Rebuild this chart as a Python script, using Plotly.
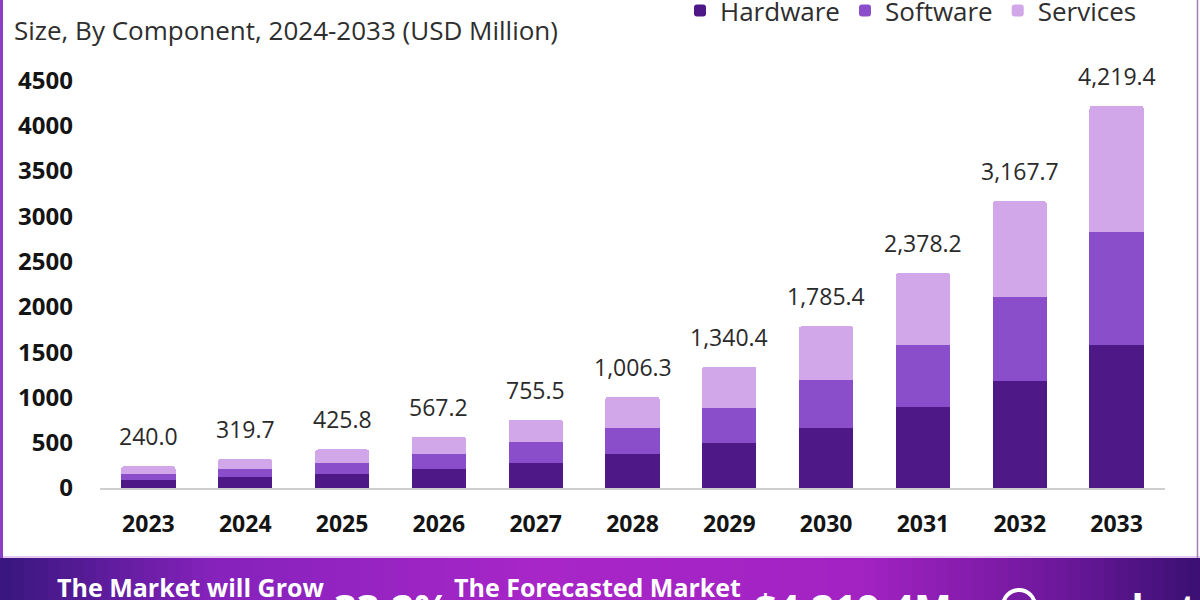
import plotly.graph_objects as go

# ---------------- data ----------------
years = ["2023", "2024", "2025", "2026", "2027", "2028", "2029", "2030", "2031", "2032", "2033"]
hardware = [89, 118, 158, 211, 281, 376, 500, 667, 893, 1185, 1578]
software = [70, 94, 123, 162, 222, 290, 385, 525, 685, 920, 1247]
services = [81.0, 107.7, 144.8, 194.2, 252.5, 340.3, 455.4, 593.4, 800.2, 1062.7, 1394.4]
totals = [240.0, 319.7, 425.8, 567.2, 755.5, 1006.3, 1340.4, 1785.4, 2378.2, 3167.7, 4219.4]
y_ticks = [0, 500, 1000, 1500, 2000, 2500, 3000, 3500, 4000, 4500]

subtitle = "Size, By Component, 2024-2033 (USD Million)"
cagr_label = "33.2%"
forecast_label = "$4,219.4M"

# ---------------- layout geometry (pixels) ----------------
W, H = 1200, 600
PL, PR, PT, PB = 100, 1165, 68, 488


def px_x(x):
    return (x - PL) / (PR - PL)


def px_y(y):
    return (PB - y) / (PB - PT)


FONT = "Open Sans"
C_HW, C_SW, C_SV = "#4e1886", "#8a4ecb", "#d1a7ea"

fig = go.Figure()
for name, vals, col in [("Hardware", hardware, C_HW), ("Software", software, C_SW), ("Services", services, C_SV)]:
    fig.add_trace(go.Bar(
        name=name, x=years, y=vals,
        marker=dict(color=col, line=dict(width=0), cornerradius=3),
        hoverinfo="x+y+name",
    ))

# value labels above bars (category index positions)
for i, t in enumerate(totals):
    fig.add_annotation(
        x=i, y=t, xref="x", yref="y", text=f"{t:,.1f}", showarrow=False,
        yanchor="bottom", yshift=12,
        font=dict(family=FONT, size=23, color="#2a2a2a"),
    )

shapes = []
# banner gradient
stops = [(0.0, (0x38, 0x16, 0x7e)), (0.18, (0x86, 0x22, 0xbc)), (0.45, (0xa8, 0x26, 0xc8)),
         (0.72, (0xa2, 0x22, 0xc2)), (0.88, (0x6e, 0x18, 0x9c)), (1.0, (0x3a, 0x10, 0x72))]


def grad(f):
    for (f0, c0), (f1, c1) in zip(stops[:-1], stops[1:]):
        if f0 <= f <= f1:
            t = (f - f0) / (f1 - f0) if f1 > f0 else 0
            return "rgb(%d,%d,%d)" % tuple(round(a + (b - a) * t) for a, b in zip(c0, c1))
    return "rgb(%d,%d,%d)" % stops[-1][1]


N = 100
BT = 558
for i in range(N):
    x0 = W * i / N
    x1 = W * (i + 1) / N + 0.5
    shapes.append(dict(type="rect", xref="paper", yref="paper",
                       x0=px_x(x0), x1=px_x(x1), y0=px_y(BT), y1=px_y(H + 5),
                       fillcolor=grad((i + 0.5) / N), line=dict(width=0), layer="above"))
# thin light line above banner
shapes.append(dict(type="line", xref="paper", yref="paper", x0=px_x(0), x1=px_x(W),
                   y0=px_y(BT - 1), y1=px_y(BT - 1), line=dict(color="#e6c9f0", width=2)))
# side borders
shapes.append(dict(type="rect", xref="paper", yref="paper", x0=px_x(0), x1=px_x(3),
                   y0=px_y(0), y1=px_y(BT), fillcolor="#8b3fc6", line=dict(width=0)))
shapes.append(dict(type="line", xref="paper", yref="paper", x0=px_x(1197.5), x1=px_x(1197.5),
                   y0=px_y(0), y1=px_y(BT), line=dict(color="#a47bb5", width=1.5)))
# logo circle
shapes.append(dict(type="circle", xref="paper", yref="paper", x0=px_x(1003), x1=px_x(1035),
                   y0=px_y(590), y1=px_y(622), line=dict(color="white", width=4)))

banner_texts = [
    ("The Market will Grow", 55, 568, 25),
    ("The Forecasted Market", 452, 568, 25),
    (cagr_label, 332, 578, 40),
    (forecast_label, 752, 578, 40),
    ("market.us", 1048, 578, 40),
]
for txt, x, y, sz in banner_texts:
    fig.add_annotation(xref="paper", yref="paper", x=px_x(x), y=px_y(y), text=f"<b>{txt}</b>",
                       showarrow=False, xanchor="left", yanchor="top",
                       font=dict(family=FONT, size=sz, color="white"))

fig.update_layout(
    width=W, height=H,
    barmode="stack", bargap=0.44,
    paper_bgcolor="white", plot_bgcolor="white",
    margin=dict(l=PL, r=W - PR, t=PT, b=H - PB, pad=0, autoexpand=False),
    title=dict(text=subtitle, x=14 / W, xanchor="left", xref="container",
               y=1 - 31 / H, yanchor="middle", yref="container",
               font=dict(family=FONT, size=26, color="#2e2e2e")),
    legend=dict(orientation="h", x=px_x(1142), xanchor="right", y=px_y(-13), yanchor="top",
                traceorder="normal", font=dict(family=FONT, size=26, color="#2e2e2e"),
                bgcolor="rgba(0,0,0,0)", itemclick=False),
    shapes=shapes,
    showlegend=True,
)
fig.update_xaxes(type="category", range=[-0.5, 10.5], showgrid=False, zeroline=False,
                 showline=True, linecolor="#cfcfcf", linewidth=1.5, ticks="",
                 ticklabelstandoff=15,
                 tickfont=dict(family=FONT, size=23, color="#141414", weight="bold"))
fig.update_yaxes(range=[0, (PB - PT) / 0.09056], showgrid=False, zeroline=False, showline=False,
                 tickmode="array", tickvals=y_ticks, ticktext=[str(v) for v in y_ticks],
                 ticks="", ticklabelstandoff=26,
                 tickfont=dict(family=FONT, size=24, color="#141414", weight="bold"))

fig.write_html("out.html", config={"displayModeBar": False},
               post_script="document.body.style.margin='0';document.body.style.overflow='hidden';")
